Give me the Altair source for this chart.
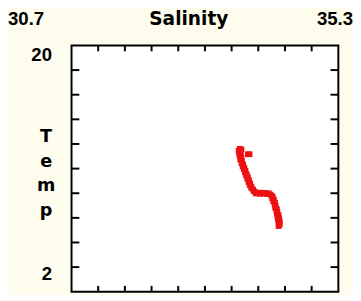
import altair as alt
import pandas as pd

salinity = [33.60, 33.63, 33.58, 33.61, 33.59, 33.62, 33.74, 33.77,
            33.60, 33.63, 33.61, 33.64, 33.63, 33.66, 33.65, 33.68, 33.67, 33.70,
            33.69, 33.72, 33.71, 33.74, 33.73, 33.76, 33.75, 33.78, 33.77, 33.80,
            33.80, 33.83, 33.84, 33.87, 33.88, 33.92, 33.95, 33.98, 34.01, 34.04,
            34.07, 34.10, 34.13, 34.15, 34.17, 34.16, 34.19, 34.18, 34.21, 34.20,
            34.22, 34.21, 34.24, 34.23, 34.25, 34.24, 34.27, 34.25, 34.28, 34.26,
            34.29, 34.27, 34.29, 34.27]
temp = [12.45, 12.40, 12.30, 12.20, 12.10, 12.00, 12.05, 12.05,
        11.90, 11.80, 11.65, 11.55, 11.40, 11.30, 11.15, 11.05, 10.95, 10.85,
        10.72, 10.60, 10.48, 10.38, 10.25, 10.15, 10.02, 9.92, 9.80, 9.70,
        9.58, 9.48, 9.36, 9.28, 9.18, 9.22, 9.15, 9.24, 9.17, 9.22,
        9.14, 9.20, 9.10, 9.02, 8.92, 8.80, 8.72, 8.60, 8.50, 8.38,
        8.28, 8.15, 8.05, 7.92, 7.82, 7.70, 7.60, 7.48, 7.38, 7.25,
        7.15, 7.03, 6.92, 6.80]

x_min, x_max = 30.7, 35.3
y_min, y_max = 2, 20
x_ticks = [31.16, 31.62, 32.08, 32.54, 33.00, 33.46, 33.92, 34.38, 34.84]
y_ticks = [3.8, 5.6, 7.4, 9.2, 11.0, 12.8, 14.6, 16.4, 18.2]
x_title = "Salinity"
y_title = ["T", "e", "m", "p"]
x_min_label = "30.7"
x_max_label = "35.3"
y_max_label = "20"
y_min_label = "2"

W, H = 273, 252
PAD_L = 65
NUM_FONT = "Liberation Sans"
TITLE_FONT = "DejaVu Sans"

xs = alt.Scale(domain=[x_min, x_max], nice=False, zero=False)
ys = alt.Scale(domain=[y_min, y_max], nice=False, zero=False)

pts = pd.DataFrame({"S": salinity, "T": temp})
xt = pd.DataFrame({"v": x_ticks})
yt = pd.DataFrame({"v": y_ticks})
one = pd.DataFrame({"k": [0]})

points = alt.Chart(pts).mark_square(color="#ee1111", size=34, opacity=1).encode(
    x=alt.X("S:Q", scale=xs, axis=None),
    y=alt.Y("T:Q", scale=ys, axis=None),
)

tick_style = dict(color="black", strokeWidth=2)
bottom = alt.Chart(xt).mark_rule(**tick_style).encode(
    x=alt.X("v:Q", scale=xs, axis=None), y=alt.value(H), y2=alt.value(H - 6))
top = alt.Chart(xt).mark_rule(**tick_style).encode(
    x=alt.X("v:Q", scale=xs, axis=None), y=alt.value(0), y2=alt.value(6))
left = alt.Chart(yt).mark_rule(**tick_style).encode(
    y=alt.Y("v:Q", scale=ys, axis=None), x=alt.value(0), x2=alt.value(8))
right = alt.Chart(yt).mark_rule(**tick_style).encode(
    y=alt.Y("v:Q", scale=ys, axis=None), x=alt.value(W), x2=alt.value(W - 8))

num = dict(font=NUM_FONT, fontWeight="bold", fontSize=19, color="black")
ttl = dict(font=TITLE_FONT, fontWeight="bold", fontSize=19, color="black")
t1 = alt.Chart(one).mark_text(text=x_min_label, align="left", baseline="middle", **num).encode(
    x=alt.value(-PAD_L), y=alt.value(-27))
t2 = alt.Chart(one).mark_text(text=x_title, align="center", baseline="middle", **ttl).encode(
    x=alt.value(120), y=alt.value(-27))
t3 = alt.Chart(one).mark_text(text=x_max_label, align="right", baseline="middle", **num).encode(
    x=alt.value(288), y=alt.value(-27))
t4 = alt.Chart(one).mark_text(text=y_max_label, align="right", baseline="middle", **num).encode(
    x=alt.value(-20), y=alt.value(10))
t5 = alt.Chart(one).mark_text(text=y_min_label, align="right", baseline="middle", **num).encode(
    x=alt.value(-20), y=alt.value(234))
t6 = alt.Chart(one).mark_text(text=y_title, align="center", baseline="alphabetic",
                              lineHeight=25, font=TITLE_FONT, fontWeight="bold",
                              fontSize=18, color="black").encode(
    x=alt.value(-26), y=alt.value(99))

chart = alt.layer(points, bottom, top, left, right, t1, t2, t3, t4, t5, t6).properties(
    width=W, height=H,
    autosize=alt.AutoSizeParams(type="none"),
    padding={"left": PAD_L, "top": 35, "right": 15, "bottom": 0},
    background="#fefcec",
).configure_view(stroke="black", strokeWidth=2, fill="white")

chart.save("out.html", embed_options={"renderer": "svg", "actions": False})
